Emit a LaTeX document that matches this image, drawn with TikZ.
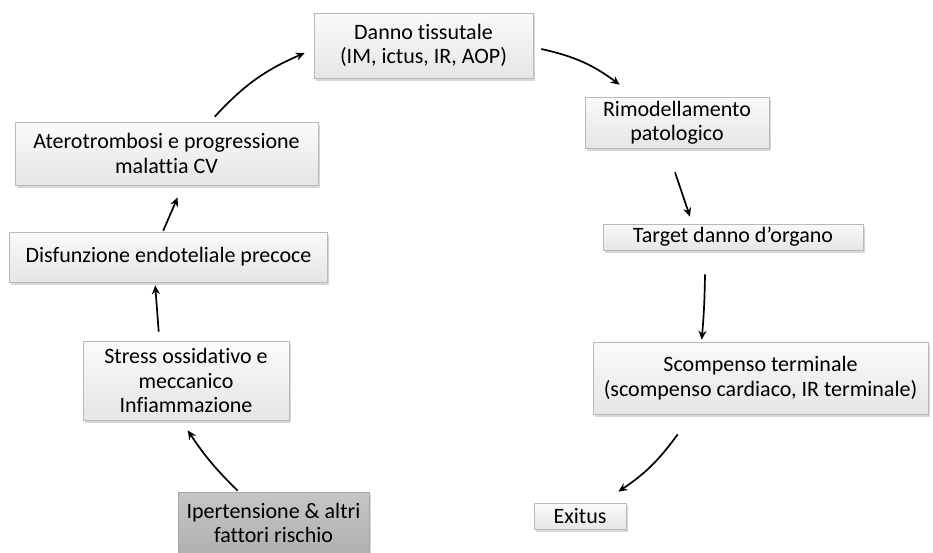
\documentclass[tikz,border=0pt]{standalone}
\usepackage{fontspec}
\setmainfont[Ligatures=NoCommon]{Carlito}
\usetikzlibrary{shadows,arrows.meta,calc}
\tikzset{
  box/.style={rectangle, draw=gray!55, line width=0.6pt, top color=gray!4, bottom color=gray!20,
    drop shadow={shadow xshift=1.5pt, shadow yshift=-2.5pt, fill=gray!70, opacity=0.45},
    inner sep=0pt, align=center, font=\fontsize{22}{24.5}\selectfont, text=black},
  darkbox/.style={box, top color=gray!45, bottom color=gray!62, draw=gray!70},
  arr/.style={line width=1.7pt, -{Stealth[length=9pt,width=8pt]}}
}
\begin{document}
\begin{tikzpicture}[x=1pt,y=-1pt]
\useasboundingbox (0,0) rectangle (933,552);
\node[box, minimum width=219pt, minimum height=65pt] (danno) at (423.5,45.5) {Danno tissutale\\(IM, ictus, IR, AOP)};
\node[box, minimum width=184pt, minimum height=51pt] (rimod) at (677,122.5) {Rimodellamento\\patologico};
\node[box, minimum width=260pt, minimum height=26pt] (target) at (733,237) {Target danno d’organo};
\node[box, minimum width=335pt, minimum height=72pt] (scomp) at (760.5,378) {Scompenso terminale\\(scompenso cardiaco, IR terminale)};
\node[box, minimum width=92pt, minimum height=26pt] (exitus) at (580,516) {Exitus};
\node[darkbox, minimum width=191pt, minimum height=62pt] (ipert) at (273.5,523) {Ipertensione \& altri\\fattori rischio};
\node[box, minimum width=206pt, minimum height=79pt] (stress) at (186,380.5) {Stress ossidativo e\\meccanico\\Infiammazione};
\node[box, minimum width=318pt, minimum height=50pt] (disf) at (168.5,257) {Disfunzione endoteliale precoce};
\node[box, minimum width=303pt, minimum height=63pt] (atero) at (166.5,153.5) {Aterotrombosi e progressione\\malattia CV};

\draw[arr] ($(ipert.north west)+(60,-1)$) to[bend left=6] ($(stress.south west)+(105,10)$);
\draw[arr] ($(stress.north west)+(76,-9)$) -- ($(disf.south west)+(146,3)$);
\draw[arr] ($(disf.north west)+(154,-1)$) -- ($(atero.south west)+(163,12)$);
\draw[arr] ($(atero.north west)+(200,-5)$) to[bend left=12] ($(danno.west)+(-9,7.5)$);
\draw[arr] ($(danno.east)+(8,3.5)$) to[bend left=12] ($(rimod.north west)+(35,-12)$);
\draw[arr] ($(rimod.south)+(-2,24)$) -- ($(target.north)+(-43,-7)$);
\draw[arr] ($(target.south)+(-28,24)$) to[bend left=2] ($(scomp.north west)+(109,-2)$);
\draw[arr] ($(scomp.south west)+(85,20)$) to[bend left=10] ($(exitus.north east)+(-8,-11)$);
\end{tikzpicture}
\end{document}
